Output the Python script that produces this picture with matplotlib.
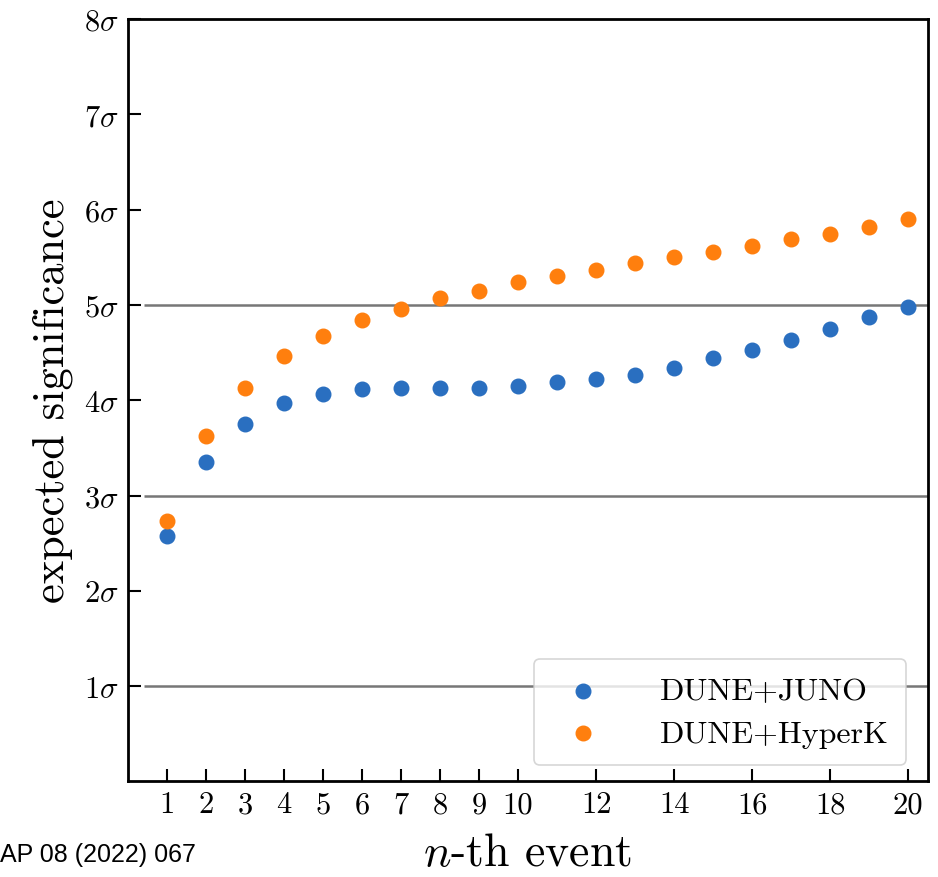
import matplotlib
matplotlib.use("Agg")
import matplotlib.pyplot as plt

plt.rcParams["font.family"] = "serif"
plt.rcParams["font.serif"] = ["cmr10"]
plt.rcParams["mathtext.fontset"] = "cm"
plt.rcParams["axes.unicode_minus"] = False

events = list(range(1, 21))
dune_juno = [2.58, 3.35, 3.75, 3.97, 4.07, 4.12, 4.13, 4.13, 4.13, 4.15,
             4.19, 4.22, 4.27, 4.34, 4.44, 4.53, 4.63, 4.75, 4.87, 4.98]
dune_hyperk = [2.73, 3.62, 4.13, 4.46, 4.67, 4.84, 4.96, 5.07, 5.15, 5.24,
               5.30, 5.37, 5.44, 5.50, 5.56, 5.62, 5.69, 5.75, 5.82, 5.90]
xticks = [1, 2, 3, 4, 5, 6, 7, 8, 9, 10, 12, 14, 16, 18, 20]
yticks = [1, 2, 3, 4, 5, 6, 7, 8]
ref_lines = [1, 3, 5]

fig = plt.figure(figsize=(9.38, 8.78), dpi=100)
ax = fig.add_axes([0.1365, 0.109, 0.8525, 0.868])

ax.hlines(ref_lines, 0.4, 20.5, colors="#777777", linewidth=1.8, zorder=1)
ax.scatter(events, dune_juno, s=110, color="#2a6fc0", label="DUNE+JUNO", zorder=3)
ax.scatter(events, dune_hyperk, s=110, color="#ff7f0e", label="DUNE+HyperK", zorder=3)

ax.set_xlim(0, 20.5)
ax.set_ylim(0, 8)
ax.set_xticks(xticks)
ax.set_xticklabels([str(t) for t in xticks])
ax.set_yticks(yticks)
ax.set_yticklabels([r"$%d\sigma$" % t for t in yticks])
ax.tick_params(direction="in", length=9, width=1.5, labelsize=22, pad=7)

for sp in ax.spines.values():
    sp.set_linewidth(2.0)

ax.set_ylabel("expected significance", fontsize=32, labelpad=8)
ax.set_xlabel(r"$n$-th event", fontsize=33, labelpad=10)

leg = ax.legend(loc="lower right", fontsize=23, frameon=True, fancybox=True,
                handletextpad=1.4, borderpad=0.55, labelspacing=0.45,
                bbox_to_anchor=(0.993, 0.0))
leg.get_frame().set_edgecolor("#cccccc")
leg.get_frame().set_linewidth(1.2)

fig.text(0.0, 0.012, "AP 08 (2022) 067", fontsize=18, family="Liberation Sans",
         ha="left", va="bottom")

fig.savefig("out.png", dpi=100)
